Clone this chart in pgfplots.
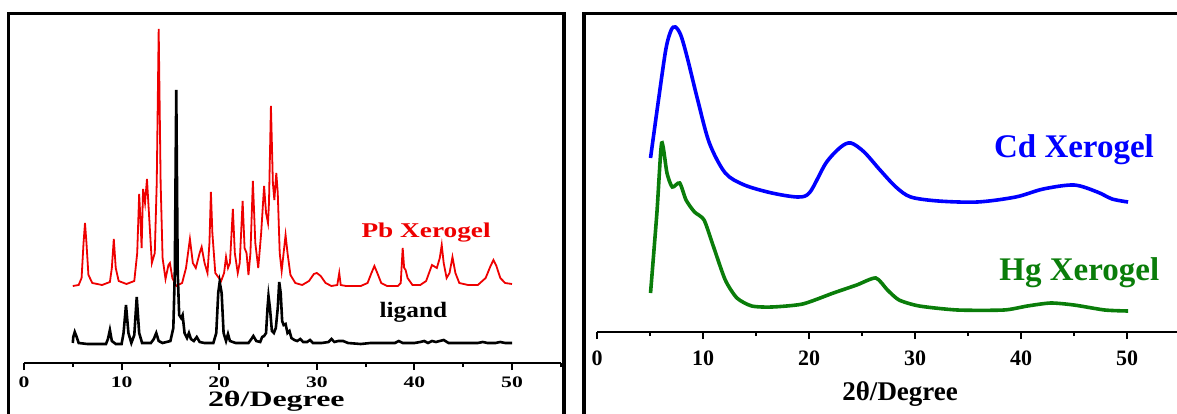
\documentclass[border=0pt]{standalone}
\usepackage{pgfplots}
\pgfplotsset{compat=1.18}
\usepackage{fontspec}
\setmainfont{Liberation Serif}
\definecolor{pbred}{RGB}{238,0,0}
\definecolor{cdblue}{RGB}{0,0,255}
\definecolor{hggreen}{RGB}{10,125,10}
\begin{document}
\begin{tikzpicture}[x=1pt,y=1pt]
\useasboundingbox (0,0) rectangle (1177,413);
\begin{scope}
\clip (0,0) rectangle (1177,413);
% ---------- left panel ----------
\begin{axis}[
  at={(24pt,50pt)}, anchor=south west,
  scale only axis, width=536.8pt, height=363pt,
  xmin=0, xmax=55, ymin=0, ymax=363,
  axis x line=bottom, axis y line=none,
  x axis line style={-, line width=2.6pt},
  xtick={0,10,...,50}, minor xtick={5,15,...,55},
  xtick align=outside,
  major tick length=7pt, minor tick length=4pt,
  every tick/.style={black, line width=2pt},
  /pgf/number format/assume math mode=true,
  xticklabel style={font=\fontsize{16}{16}\selectfont\bfseries, xscale=1.35, anchor=center, yshift=-12pt},
  xlabel={2θ/Degree},
  xlabel style={font=\fontsize{22}{22}\selectfont\bfseries, xscale=1.45, at={(axis description cs:0.47,0)}, anchor=center, yshift=-38pt},
  clip=false,
]
\addplot[pbred, line width=1.8pt] coordinates {
(5.0,77)(5.6,78)(5.9,85)(6.1,120)(6.25,140)(6.4,120)(6.6,88)(7.0,80)(8.0,78)(8.8,81)
(9.0,95)(9.2,124)(9.4,95)(9.7,82)(10.5,79)(11.3,82)(11.6,110)(11.8,169)(11.95,140)(12.05,115)
(12.2,174)(12.4,160)(12.6,184)(12.8,150)(13.1,100)(13.4,110)(13.6,180)(13.8,334)(14.0,180)(14.2,105)
(14.5,84)(14.8,98)(14.95,100)(15.2,85)(15.6,77)(16.2,80)(16.6,95)(17.0,124)(17.3,100)(17.6,95)
(18.0,110)(18.2,116)(18.5,100)(18.8,90)(19.0,120)(19.15,171)(19.3,130)(19.6,90)(20.2,82)(20.5,90)
(20.7,106)(20.9,95)(21.1,100)(21.4,154)(21.6,110)(21.9,90)(22.1,100)(22.4,162)(22.6,115)(22.8,110)
(23.0,88)(23.2,110)(23.45,182)(23.7,120)(24.0,95)(24.3,130)(24.6,177)(24.8,150)(25.0,140)(25.1,160)
(25.3,257)(25.5,180)(25.65,163)(25.85,190)(26.0,170)(26.2,110)(26.4,92)(26.6,110)(26.8,128)(27.0,110)
(27.3,88)(27.8,80)(28.5,78)(29.2,82)(29.7,89)(30.0,90)(30.4,87)(30.9,80)(31.5,77)(32.1,78)
(32.3,90)(32.45,78)(33,77)(34.5,77)(35.2,80)(35.6,90)(35.9,97)(36.2,90)(36.6,80)(37.2,77)
(38.3,77)(38.6,80)(38.8,115)(38.95,95)(39.1,93)(39.3,85)(39.8,78)(40.6,78)(41.2,82)(41.8,98)
(42.3,95)(42.6,105)(42.8,118)(43.0,100)(43.3,85)(43.6,90)(43.9,106)(44.2,90)(44.6,80)(45.5,78)
(46.5,78)(47.3,85)(47.8,97)(48.1,103)(48.4,97)(48.8,85)(49.3,80)(50.0,79)
};
\addplot[black, line width=2.6pt] coordinates {
(5.0,20)(5.05,26)(5.2,31)(5.4,26)(5.6,20)(6.5,19)(8.4,19)(8.6,24)(8.8,33)(9.0,22)
(9.4,19)(10.0,19)(10.2,30)(10.45,58)(10.7,30)(11.0,20)(11.3,28)(11.55,66)(11.8,30)(12.1,20)
(13.0,20)(13.3,24)(13.55,30)(13.8,22)(14.2,20)(15.0,22)(15.3,35)(15.45,90)(15.6,273)(15.75,90)
(15.9,48)(16.1,45)(16.25,48)(16.45,30)(16.7,25)(16.9,30)(17.1,24)(17.4,22)(17.7,26)(18.0,21)
(18.5,20)(19.4,20)(19.7,30)(19.9,70)(20.05,81)(20.25,70)(20.45,30)(20.7,22)(20.9,29)(21.1,22)
(21.4,21)(21.7,20)(23.0,20)(23.3,24)(23.5,27)(23.8,22)(24.2,21)(24.4,26)(24.6,27)(24.8,30)
(24.95,55)(25.05,67)(25.2,55)(25.4,32)(25.6,30)(25.8,35)(26.0,55)(26.15,81)(26.3,70)(26.45,42)
(26.6,38)(26.8,39)(27.0,30)(27.2,32)(27.4,25)(27.7,23)(28.0,22)(28.3,24)(28.6,21)(29.0,21)
(29.3,23)(29.6,20)(30.5,20)(31.2,21)(31.5,24)(31.8,21)(32.2,22)(32.7,22)(33.2,20)(34.5,19)
(35.5,20)(36.5,20)(38.0,20)(38.4,22)(38.8,20)(40.0,20)(40.6,21)(41.0,22)(41.4,20)(41.8,22)
(42.2,21)(42.6,22)(43.0,23)(43.5,20)(45.0,20)(46.5,20)(47.0,21)(47.5,20)(48.3,20)(48.8,21)
(49.3,20)(50.0,20)
};
\node[text=pbred, font=\fontsize{21}{21}\selectfont\bfseries, xscale=1.3] at (axis cs:41.2,130) {Pb Xerogel};
\node[text=black, font=\fontsize{22}{22}\selectfont\bfseries, xscale=1.15] at (axis cs:39.9,51) {ligand};
\end{axis}
% ---------- right panel ----------
\begin{axis}[
  at={(597pt,81pt)}, anchor=south west,
  scale only axis, width=583pt, height=332pt,
  xmin=0, xmax=55, ymin=0, ymax=332,
  axis x line=bottom, axis y line=none,
  x axis line style={-, line width=2.6pt},
  xtick={0,10,...,50}, minor xtick={5,15,...,55},
  xtick align=outside,
  major tick length=7pt, minor tick length=4pt,
  every tick/.style={black, line width=2pt},
  /pgf/number format/assume math mode=true,
  xticklabel style={font=\fontsize{22}{22}\selectfont\bfseries, anchor=center, yshift=-19pt},
  xlabel={2θ/Degree},
  xlabel style={font=\fontsize{27}{27}\selectfont\bfseries, at={(axis description cs:0.52,0)}, anchor=center, yshift=-62pt},
  clip=false,
]
\addplot[cdblue, line width=3.6pt, smooth, tension=0.5] coordinates {
(5.05,174)(5.8,232)(6.5,283)(7.0,302)(7.4,305)(7.9,297)(8.5,275)(9.5,232)(10.6,189)(12.1,159)(13.9,147)(16.5,139)(19.0,135)
(20.1,140)(21.6,169)(23.0,185)(23.96,189)(25.2,180)(26.7,162)(28.2,145)(29.6,135)(32.2,131)(35.9,130)
(39.5,135)(42.1,143)(45.0,147)(47.2,140)(48.6,133)(50.1,130)
};
\addplot[hggreen, line width=3.6pt, smooth, tension=0.4] coordinates {
(5.05,39)(5.65,119)(6.1,189)(6.6,159)(7.1,145)(7.8,149)(8.4,132)(9.2,120)(10.1,112)(11.0,85)
(12.1,52)(13.2,34)(14.6,26)(16.5,25)(19.4,28)(22.3,39)(24.5,47)(26.3,54)(27.4,42)(28.5,32)
(30.4,26)(34.0,22)(38.4,22)(40.6,26)(42.8,29)(45.0,27)(47.9,22)(50.1,21)
};
\node[text=cdblue, font=\fontsize{33}{33}\selectfont\bfseries] at (axis cs:45.0,182) {Cd Xerogel};
\node[text=hggreen, font=\fontsize{33}{33}\selectfont\bfseries] at (axis cs:45.5,59) {Hg Xerogel};
\end{axis}
% ---------- frames ----------
\draw[line width=3.5pt] (8.5,-20) -- (8.5,399.5) -- (564,399.5) -- (564,-20);
\draw[line width=3.5pt] (584,-20) -- (584,399.5) -- (1200,399.5);
\end{scope}
\end{tikzpicture}
\end{document}
